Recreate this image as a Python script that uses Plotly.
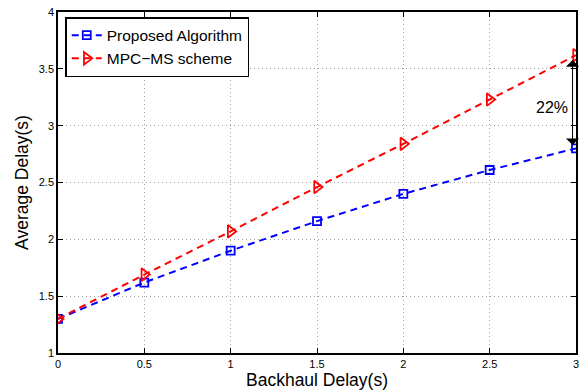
import plotly.graph_objects as go

backhaul = [0, 0.5, 1, 1.5, 2, 2.5, 3]
proposed = [1.30, 1.62, 1.90, 2.16, 2.40, 2.61, 2.80]
mpc_ms = [1.30, 1.69, 2.07, 2.46, 2.84, 3.23, 3.62]
x_ticks = [0, 0.5, 1, 1.5, 2, 2.5, 3]
x_tick_text = ["0", "0.5", "1", "1.5", "2", "2.5", "3"]
y_ticks = [1, 1.5, 2, 2.5, 3, 3.5, 4]
y_tick_text = ["1", "1.5", "2", "2.5", "3", "3.5", "4"]

fig = go.Figure()
fig.add_trace(go.Scatter(
    x=backhaul, y=proposed, mode="lines+markers", name="Proposed Algorithm",
    line=dict(color="#0000ff", width=2, dash="7px,5px"),
    marker=dict(symbol="square-open", size=8, color="#0000ff", line=dict(width=1.8)),
))
fig.add_trace(go.Scatter(
    x=backhaul, y=mpc_ms, mode="lines+markers", name="MPC\u2212MS scheme",
    line=dict(color="#ff0000", width=2, dash="7px,5px"),
    marker=dict(symbol="triangle-right-open", size=11, color="#ff0000", line=dict(width=1.8)),
))

# double-headed arrow showing the gap at the last point
fig.add_annotation(
    x=2.98, y=proposed[-1] + 0.03, ax=2.98, ay=mpc_ms[-1] - 0.03,
    xref="x", yref="y", axref="x", ayref="y",
    text="", showarrow=True, arrowhead=1, startarrowhead=1, arrowside="end+start",
    arrowsize=2.2, startarrowsize=2.2, arrowwidth=1, arrowcolor="black",
)
fig.add_annotation(
    x=2.86, y=3.16, xref="x", yref="y", text="22%", showarrow=False,
    font=dict(size=16, color="black", family="Liberation Sans, Arial"),
)

axis_common = dict(
    showline=True, linecolor="black", linewidth=1.5, mirror="ticks",
    ticks="inside", ticklen=5, tickcolor="black", tickwidth=1,
    showgrid=True, gridcolor="#a0a0a0", griddash="1px,3px", gridwidth=1,
    zeroline=False, tickfont=dict(size=11, color="black"),
)
fig.update_xaxes(range=[0, 3], tickvals=x_ticks, ticktext=x_tick_text,
                 title=dict(text="Backhaul Delay(s)", font=dict(size=17.5, color="black"), standoff=1),
                 **axis_common)
fig.update_yaxes(range=[1, 4], tickvals=y_ticks, ticktext=y_tick_text,
                 title=dict(text="Average Delay(s)", font=dict(size=17.5, color="black"), standoff=6),
                 **axis_common)

fig.update_layout(
    width=585, height=392,
    margin=dict(l=58, r=6, t=11, b=39),
    paper_bgcolor="white", plot_bgcolor="white",
    font=dict(family="Liberation Sans, Arial, sans-serif", color="black"),
    showlegend=True,
    legend=dict(x=0.014, y=0.985, xanchor="left", yanchor="top",
                bgcolor="white", bordercolor="black", borderwidth=1.5,
                font=dict(size=15.5, color="black"), tracegroupgap=0,
                itemwidth=30),
)

fig.write_html("out.html")
